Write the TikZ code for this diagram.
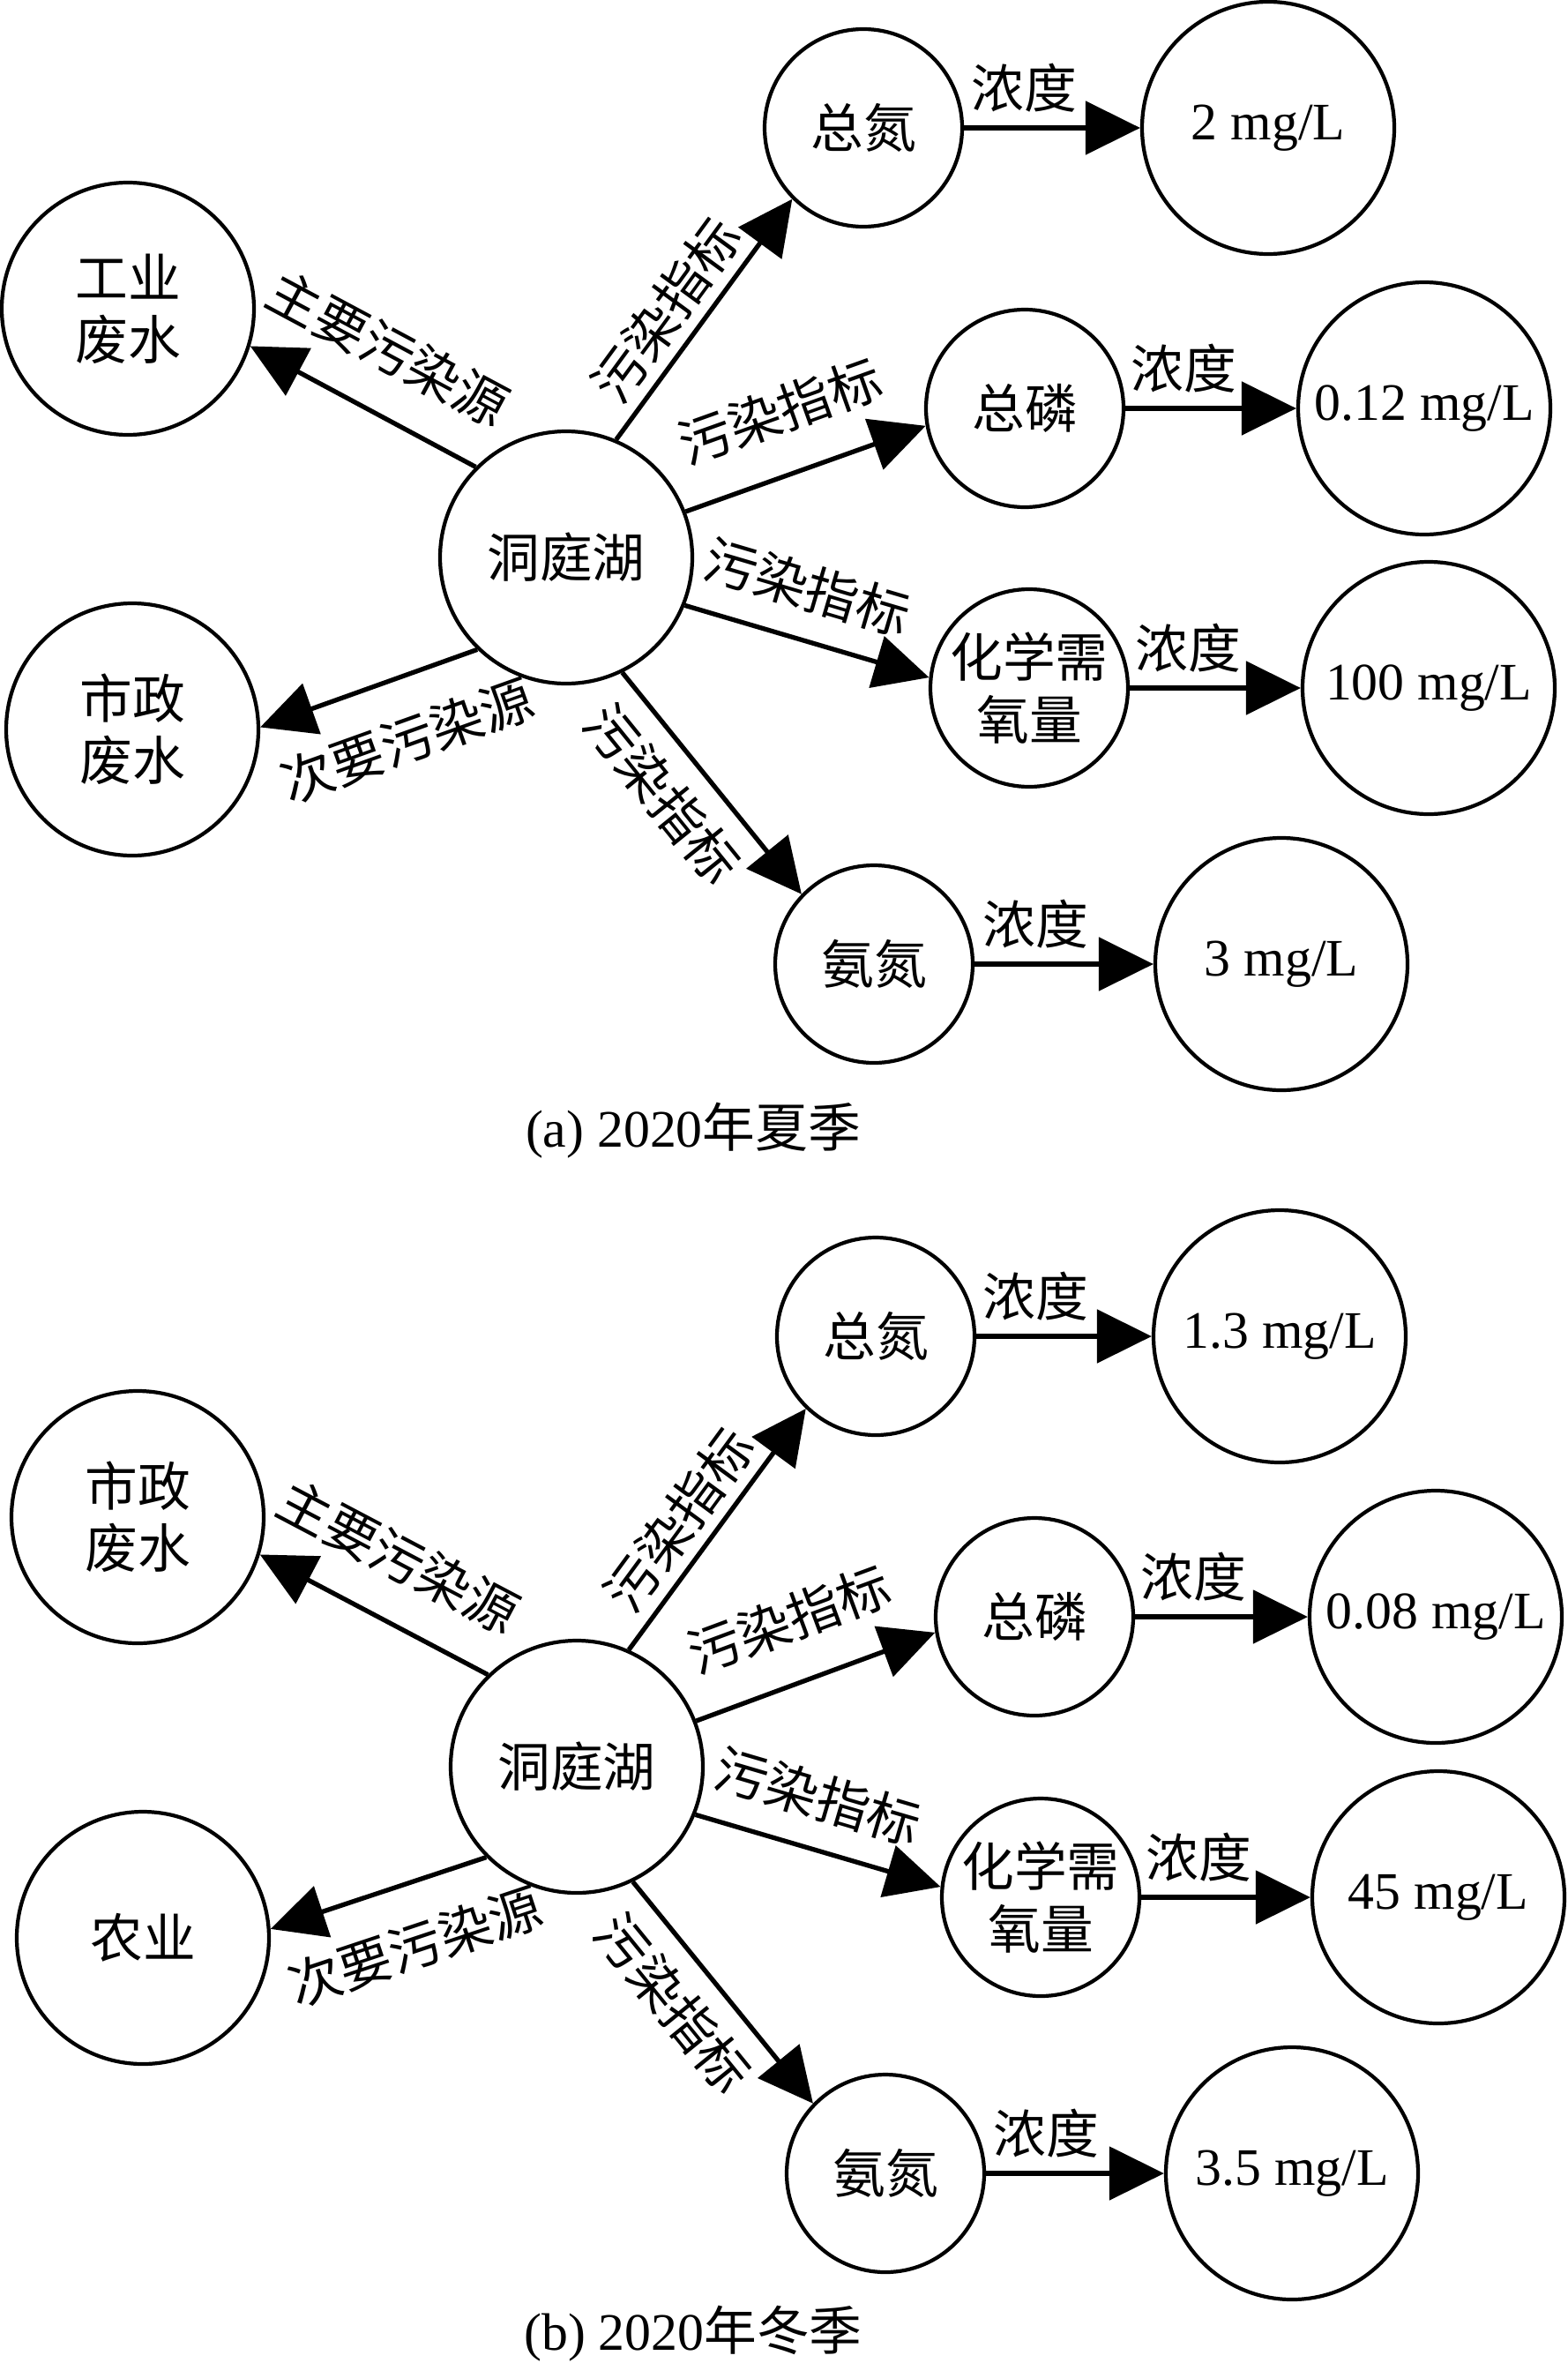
\documentclass[tikz,border=0pt]{standalone}
\usepackage{fontspec}
\setmainfont{Liberation Serif}
\newfontfamily\cjk{Noto Sans CJK SC}
\usetikzlibrary{arrows.meta}

\begin{document}
\begin{tikzpicture}[>={Triangle[length=0.62cm,width=0.6cm]},
  bigc/.style={draw,circle,line width=1.2pt,minimum size=2.86cm,inner sep=0pt,align=center,font=\cjk\fontsize{17}{20}\selectfont},
  smallc/.style={bigc,minimum size=2.24cm},
  val/.style={bigc,font=\fontsize{17}{20}\selectfont},
  arr/.style={->,line width=1.5pt},
  lbl/.style={sloped,inner sep=0.05cm,font=\cjk\fontsize{17}{20}\selectfont}]
\useasboundingbox (0,0) rectangle (17.77,-26.79);
% (a) summer
\node[bigc] (lakeA) at (6.42,-6.32) {洞庭湖};
\node[bigc] (indA) at (1.45,-3.50) {工业\\废水};
\node[bigc] (munA) at (1.50,-8.27) {市政\\废水};
\node[smallc] (tnA) at (9.79,-1.45) {总氮};   \node[val] (vtnA) at (14.38,-1.45) {2 mg/L};
\node[smallc] (tpA) at (11.62,-4.63) {总磷};  \node[val] (vtpA) at (16.15,-4.63) {0.12 mg/L};
\node[smallc] (codA) at (11.67,-7.80) {化学需\\氧量}; \node[val] (vcodA) at (16.20,-7.80) {100 mg/L};
\node[smallc] (nhA) at (9.91,-10.93) {氨氮};  \node[val] (vnhA) at (14.53,-10.93) {3 mg/L};
\node[font=\fontsize{17}{20}\selectfont] (capA) at (7.86,-12.82) {(a) 2020{\cjk 年夏季}};
\draw[arr] (lakeA.135) -- node[lbl,pos=0.52,above=0.36cm] {主要污染源} (indA.-17);
\draw[arr] (lakeA.226) -- node[lbl,pos=0.42,below=0.35cm] {次要污染源} (munA.1);
\draw[arr] (lakeA.67) -- node[lbl,pos=0.45,above=0.06cm] {污染指标} (tnA.225);
\draw[arr] (lakeA.21) -- node[lbl,pos=0.48,above=0.36cm] {污染指标} (tpA.190);
\draw[arr] (lakeA.-22) -- node[lbl,pos=0.44,above=0.24cm] {污染指标} (codA.174);
\draw[arr] (lakeA.-64) -- node[lbl,pos=0.42,below=0.16cm] {污染指标} (nhA.136);
% (b) winter
\node[bigc] (lakeB) at (6.54,-20.03) {洞庭湖};
\node[bigc] (munB) at (1.56,-17.20) {市政\\废水};
\node[bigc] (agrB) at (1.62,-21.97) {农业};
\node[smallc] (tnB) at (9.93,-15.15) {总氮};   \node[val] (vtnB) at (14.51,-15.15) {1.3 mg/L};
\node[smallc] (tpB) at (11.73,-18.33) {总磷};  \node[val] (vtpB) at (16.28,-18.33) {0.08 mg/L};
\node[smallc] (codB) at (11.80,-21.51) {化学需\\氧量}; \node[val] (vcodB) at (16.31,-21.51) {45 mg/L};
\node[smallc] (nhB) at (10.04,-24.64) {氨氮};  \node[val] (vnhB) at (14.65,-24.64) {3.5 mg/L};
\node[font=\fontsize{17}{20}\selectfont] (capB) at (7.86,-26.46) {(b) 2020{\cjk 年冬季}};
\draw[arr] (lakeB.134) -- node[lbl,pos=0.52,above=0.36cm] {主要污染源} (munB.-17);
\draw[arr] (lakeB.225) -- node[lbl,pos=0.42,below=0.35cm] {次要污染源} (agrB.4);
\draw[arr] (lakeB.66) -- node[lbl,pos=0.45,above=0.06cm] {污染指标} (tnB.226);
\draw[arr] (lakeB.21) -- node[lbl,pos=0.48,above=0.36cm] {污染指标} (tpB.189);
\draw[arr] (lakeB.-22) -- node[lbl,pos=0.44,above=0.24cm] {污染指标} (codB.174);
\draw[arr] (lakeB.-64) -- node[lbl,pos=0.42,below=0.16cm] {污染指标} (nhB.136);
% concentrations
\foreach \i in {tnA,tpA,codA,nhA,tnB,tpB,codB,nhB}
  \draw[arr] (\i) -- node[lbl,pos=0.34,above=0.1cm] {浓度} (v\i);
\end{tikzpicture}
\end{document}
